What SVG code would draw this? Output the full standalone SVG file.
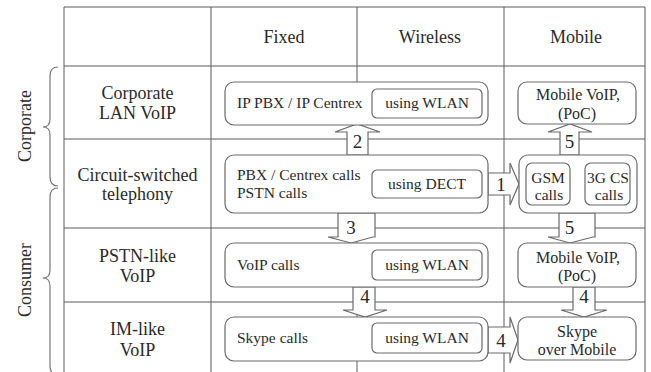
<svg xmlns="http://www.w3.org/2000/svg" width="651" height="372" viewBox="0 0 651 372">
<style>
.grid{stroke:#5a5a5a;stroke-width:1;fill:none}
.box{fill:#fff;stroke:#6a6a6a;stroke-width:1.2}
.arr{fill:#fff;stroke:#6a6a6a;stroke-width:1.2;stroke-linejoin:miter}
.brace{fill:none;stroke:#777;stroke-width:1.2}
text{font-family:"Liberation Serif","Times New Roman",serif;fill:#2a2a2a}
.hd{font-size:18px;text-anchor:middle}
.bt{font-size:15.5px}
.bc{font-size:15.5px;text-anchor:middle}
.mb{font-size:16px;text-anchor:middle}
.num{font-size:19px;text-anchor:middle}
.side{font-size:18px;text-anchor:middle}
</style>
<rect width="651" height="372" fill="#fff"/>
<g id="grid" class="grid">
<path d="M64,7H645M64,66H645M64,139H645M64,228H645M64,302H645"/>
<path d="M64,7V372M211,7V372M357,7V372M504,7V372M645,7V372"/>
</g>
<g id="side-labels">
<path class="brace" d="M58,67Q50,67 50,76L50,119Q50,127 43,127Q50,127 50,135L50,177Q50,186 58,186"/>
<path class="brace" d="M58,188Q50,188 50,197L50,270Q50,278 43,278Q50,278 50,286L50,366Q50,375 58,375"/>
<text class="side" transform="translate(31,126) rotate(-90)">Corporate</text>
<text class="side" transform="translate(31,280) rotate(-90)">Consumer</text>
</g>
<g id="headers">
<text class="hd" x="284" y="43">Fixed</text>
<text class="hd" x="430" y="43">Wireless</text>
<text class="hd" x="576" y="43">Mobile</text>
</g>
<g id="row-labels">
<text class="hd" x="137.5" y="99">Corporate</text>
<text class="hd" x="137.5" y="119">LAN VoIP</text>
<text class="hd" x="137.5" y="181">Circuit-switched</text>
<text class="hd" x="137.5" y="200">telephony</text>
<text class="hd" x="137.5" y="262">PSTN-like</text>
<text class="hd" x="137.5" y="282">VoIP</text>
<text class="hd" x="137.5" y="335">IM-like</text>
<text class="hd" x="137.5" y="356">VoIP</text>
</g>
<g id="connectors">
<g id="arrow-2"><polygon class="arr" points="347,155 347,132 335,132 357,124 380,132 368,132 368,155"/><text class="num" x="357.5" y="148">2</text></g>
<g id="arrow-5a"><polygon class="arr" points="560,155 560,132 548,132 570,124 592,132 579,132 579,155"/><text class="num" x="569.5" y="148">5</text></g>
<g id="arrow-1"><polygon class="arr" points="488,173 510,173 510,163 519,184 510,205 510,195 488,195"/><text class="num" x="501" y="191">1</text></g>
<g id="arrow-3"><polygon class="arr" points="338,213 375,213 375,237 373,237 351,243 328,237 338,237"/><text class="num" x="351" y="234">3</text></g>
<g id="arrow-5b"><polygon class="arr" points="559,213 595,213 595,237 593,237 570,243 548,237 559,237"/><text class="num" x="569.5" y="234">5</text></g>
<g id="arrow-4a"><polygon class="arr" points="353,287 375,287 375,310 387,310 365,317 343,310 353,310"/><text class="num" x="365" y="303">4</text></g>
<g id="arrow-4b"><polygon class="arr" points="573,287 595,287 595,310 607,310 584,317 561,310 573,310"/><text class="num" x="584" y="303">4</text></g>
<g id="arrow-4c"><polygon class="arr" points="488,327 510,327 510,317 518,340 510,363 510,353 488,353"/><text class="num" x="501" y="347">4</text></g>
</g>
<g id="ip-pbx">
<rect class="box" x="225" y="82" width="263" height="43" rx="9"/>
<text class="bt" x="237" y="108">IP PBX / IP Centrex</text>
<rect class="box" x="372" y="89" width="110" height="29" rx="5"/>
<text class="bc" x="427" y="108">using WLAN</text>
</g>
<g id="mobile-voip-1">
<rect class="box" x="518" y="82" width="118" height="42" rx="9"/>
<text class="mb" x="578" y="100">Mobile VoIP,</text>
<text class="mb" x="577" y="119">(PoC)</text>
</g>
<g id="pbx-centrex">
<rect class="box" x="225" y="155" width="263" height="58" rx="9"/>
<text class="bt" x="237" y="180">PBX / Centrex calls</text>
<text class="bt" x="237" y="198">PSTN calls</text>
<rect class="box" x="372" y="170" width="110" height="28" rx="5"/>
<text class="bc" x="427" y="189">using DECT</text>
</g>
<g id="gsm-3g">
<rect class="box" x="519" y="155" width="118" height="58" rx="9"/>
<rect class="box" x="526" y="163" width="44" height="42" rx="6"/>
<text class="bc" x="548" y="183">GSM</text>
<text class="bc" x="549" y="200">calls</text>
<rect class="box" x="585" y="163" width="45" height="42" rx="6"/>
<text class="bc" x="608" y="183">3G CS</text>
<text class="bc" x="609" y="200">calls</text>
</g>
<g id="voip-calls">
<rect class="box" x="225" y="243" width="263" height="44" rx="9"/>
<text class="bt" x="237" y="270">VoIP calls</text>
<rect class="box" x="372" y="250" width="110" height="30" rx="5"/>
<text class="bc" x="427" y="270">using WLAN</text>
</g>
<g id="mobile-voip-2">
<rect class="box" x="518" y="243" width="118" height="44" rx="9"/>
<text class="mb" x="578" y="263">Mobile VoIP,</text>
<text class="mb" x="577" y="281">(PoC)</text>
</g>
<g id="skype-calls">
<rect class="box" x="225" y="317" width="263" height="44" rx="9"/>
<text class="bt" x="237" y="343">Skype calls</text>
<rect class="box" x="372" y="323" width="110" height="30" rx="5"/>
<text class="bc" x="427" y="343">using WLAN</text>
</g>
<g id="skype-mobile">
<rect class="box" x="518" y="317" width="118" height="43" rx="9"/>
<text class="mb" x="577" y="337">Skype</text>
<text class="mb" x="577" y="355">over Mobile</text>
</g>
</svg>
